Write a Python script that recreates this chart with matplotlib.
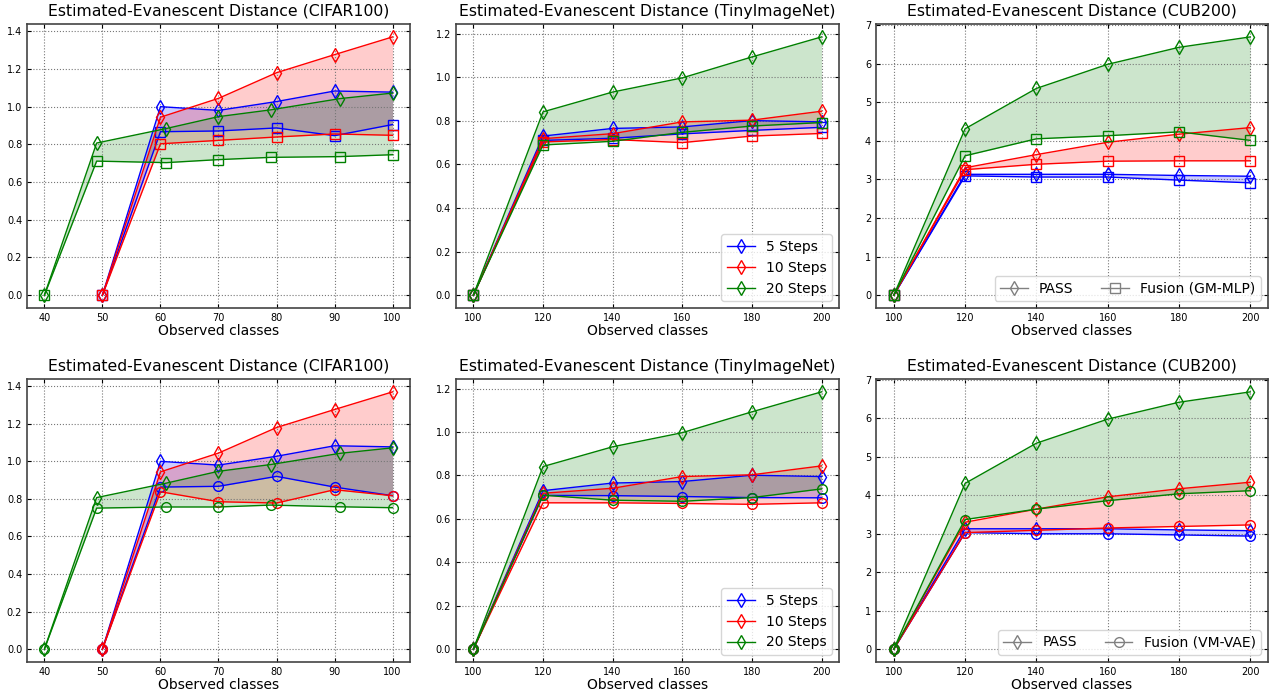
import matplotlib.pyplot as plt
import numpy as np

# ---- data ----
cifar_x_5 = [50, 60, 70, 80, 90, 100]
cifar_x_10 = [50, 60, 70, 80, 90, 100]
cifar_x_20 = [40, 49, 61, 70, 79, 91, 100]

cifar_pass_5 = [0.0, 1.0, 0.98, 1.027, 1.083, 1.077]
cifar_pass_10 = [0.0, 0.944, 1.044, 1.18, 1.276, 1.37]
cifar_pass_20 = [0.0, 0.807, 0.884, 0.947, 0.983, 1.043, 1.072]

cifar_gm_5 = [0.0, 0.867, 0.871, 0.887, 0.846, 0.905]
cifar_gm_10 = [0.0, 0.803, 0.821, 0.839, 0.855, 0.848]
cifar_gm_20 = [0.0, 0.711, 0.703, 0.719, 0.731, 0.735, 0.745]

cifar_vm_5 = [0.0, 0.863, 0.867, 0.92, 0.863, 0.817]
cifar_vm_10 = [0.0, 0.838, 0.785, 0.778, 0.849, 0.817]
cifar_vm_20 = [0.0, 0.751, 0.757, 0.757, 0.767, 0.758, 0.753]

tiny_x = [100, 120, 140, 160, 180, 200]
tiny_pass_5 = [0.0, 0.73, 0.765, 0.772, 0.801, 0.795]
tiny_pass_10 = [0.0, 0.718, 0.741, 0.795, 0.803, 0.844]
tiny_pass_20 = [0.0, 0.841, 0.932, 0.997, 1.093, 1.185]

tiny_gm_5 = [0.0, 0.71, 0.72, 0.74, 0.756, 0.77]
tiny_gm_10 = [0.0, 0.703, 0.714, 0.70, 0.73, 0.742]
tiny_gm_20 = [0.0, 0.689, 0.706, 0.747, 0.776, 0.792]

tiny_vm_5 = [0.0, 0.708, 0.707, 0.703, 0.698, 0.697]
tiny_vm_10 = [0.0, 0.674, 0.674, 0.671, 0.667, 0.674]
tiny_vm_20 = [0.0, 0.709, 0.686, 0.681, 0.698, 0.738]

cub_x = [100, 120, 140, 160, 180, 200]
cub_pass_5 = [0.0, 3.13, 3.13, 3.13, 3.10, 3.08]
cub_pass_10 = [0.0, 3.30, 3.64, 3.96, 4.17, 4.34]
cub_pass_20 = [0.0, 4.31, 5.355, 5.98, 6.42, 6.69]

cub_gm_5 = [0.0, 3.09, 3.06, 3.06, 2.98, 2.91]
cub_gm_10 = [0.0, 3.25, 3.39, 3.47, 3.48, 3.48]
cub_gm_20 = [0.0, 3.61, 4.05, 4.13, 4.23, 4.01]

cub_vm_5 = [0.0, 3.03, 3.0, 3.0, 2.97, 2.94]
cub_vm_10 = [0.0, 3.03, 3.09, 3.15, 3.19, 3.23]
cub_vm_20 = [0.0, 3.37, 3.64, 3.86, 4.04, 4.12]

step_labels = ['5 Steps', '10 Steps', '20 Steps']
colors = ['blue', 'red', 'green']
msize = {'d': 7.5, 's': 6.5, 'o': 7}


def draw(ax, xs, pass_vals, fus_vals, fus_marker, title):
    for x, p, f, c in zip(xs, pass_vals, fus_vals, colors):
        ax.fill_between(x, p, f, color=c, alpha=0.2, linewidth=0)
        ax.plot(x, p, color=c, marker='d', mfc='none', ms=msize['d'], lw=1, mew=1)
        ax.plot(x, f, color=c, marker=fus_marker, mfc='none', ms=msize[fus_marker], lw=1, mew=1)
    ax.set_title(title, fontsize=11.3)
    ax.set_xlabel('Observed classes', fontsize=10, labelpad=1)
    ax.grid(True, linestyle=':', color='#777777', linewidth=0.8)
    ax.tick_params(direction='in', labelsize=7, top=True, right=True, length=3)
    for s in ax.spines.values():
        s.set_color('#444444')
        s.set_linewidth(1.2)


fig = plt.figure(figsize=(12.74, 6.98), dpi=100)
lefts = [0.0212, 0.3579, 0.6876]
widths = [0.3006, 0.3006, 0.3077]
rows = [(0.5587, 0.4069), (0.0516, 0.4054)]

axes = [[fig.add_axes([lefts[c], rows[r][0], widths[c], rows[r][1]]) for c in range(3)] for r in range(2)]

cifar_x = [cifar_x_5, cifar_x_10, cifar_x_20]
tx = [tiny_x] * 3
cx = [cub_x] * 3

draw(axes[0][0], cifar_x, [cifar_pass_5, cifar_pass_10, cifar_pass_20],
     [cifar_gm_5, cifar_gm_10, cifar_gm_20], 's', 'Estimated-Evanescent Distance (CIFAR100)')
draw(axes[0][1], tx, [tiny_pass_5, tiny_pass_10, tiny_pass_20],
     [tiny_gm_5, tiny_gm_10, tiny_gm_20], 's', 'Estimated-Evanescent Distance (TinyImageNet)')
draw(axes[0][2], cx, [cub_pass_5, cub_pass_10, cub_pass_20],
     [cub_gm_5, cub_gm_10, cub_gm_20], 's', 'Estimated-Evanescent Distance (CUB200)')
draw(axes[1][0], cifar_x, [cifar_pass_5, cifar_pass_10, cifar_pass_20],
     [cifar_vm_5, cifar_vm_10, cifar_vm_20], 'o', 'Estimated-Evanescent Distance (CIFAR100)')
draw(axes[1][1], tx, [tiny_pass_5, tiny_pass_10, tiny_pass_20],
     [tiny_vm_5, tiny_vm_10, tiny_vm_20], 'o', 'Estimated-Evanescent Distance (TinyImageNet)')
draw(axes[1][2], cx, [cub_pass_5, cub_pass_10, cub_pass_20],
     [cub_vm_5, cub_vm_10, cub_vm_20], 'o', 'Estimated-Evanescent Distance (CUB200)')

for r in range(2):
    axes[r][0].set_xticks([40, 50, 60, 70, 80, 90, 100])
    axes[r][0].set_yticks(np.arange(0, 1.41, 0.2))
    axes[r][1].set_xticks(tiny_x)
    axes[r][2].set_xticks(cub_x)

    hs = [plt.Line2D([], [], color=c, marker='d', mfc='none', ms=msize['d'], lw=1) for c in colors]
    axes[r][1].legend(hs, step_labels, loc='lower right', fontsize=10)

    fus_name = 'Fusion (GM-MLP)' if r == 0 else 'Fusion (VM-VAE)'
    fm = 's' if r == 0 else 'o'
    hp = plt.Line2D([], [], color='gray', marker='d', mfc='none', ms=msize['d'], lw=1)
    hf = plt.Line2D([], [], color='gray', marker=fm, mfc='none', ms=msize[fm], lw=1)
    axes[r][2].legend([hp, hf], ['PASS', fus_name], loc='lower right', ncol=2, fontsize=10)

fig.savefig('out.png', dpi=100)
